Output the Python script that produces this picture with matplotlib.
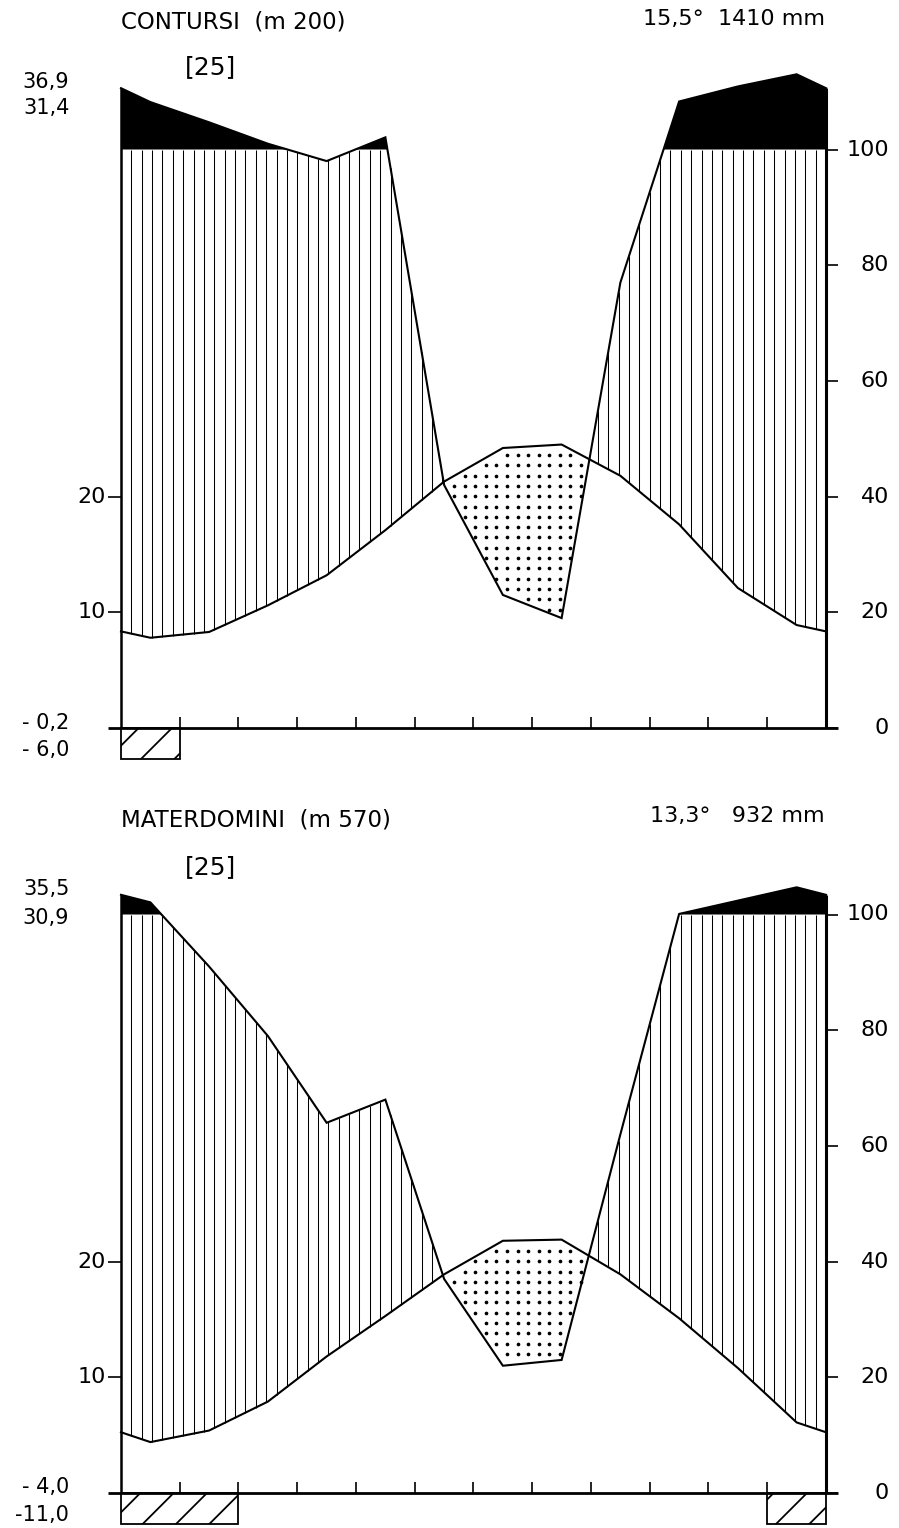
# %%
import numpy as np
import matplotlib.pyplot as plt
from matplotlib.patches import Rectangle

plt.rcParams["font.family"] = ["DejaVu Sans"]
plt.rcParams["hatch.linewidth"] = 1.3

# mesi (centro di ogni mese, gen..dic)
mesi = np.arange(12) + 0.5

# CONTURSI (m 200): temperatura media mensile (°C), precipitazioni (mm)
contursi_temp = [7.8, 8.3, 10.6, 13.2, 17.1, 21.3, 24.2, 24.5, 21.8, 17.6, 12.1, 8.9]
contursi_prec = [182, 147, 110, 98, 121, 42, 23, 19, 77, 183, 209, 230]
contursi_gelo = [1]  # mesi con minimo assoluto < 0
contursi_estremi = ["36,9", "31,4", "- 0,2", "- 6,0"]

# MATERDOMINI (m 570)
materdomini_temp = [4.4, 5.4, 7.9, 11.8, 15.3, 18.9, 21.8, 21.9, 18.9, 15.1, 10.8, 6.1]
materdomini_prec = [121, 91, 79, 64, 68, 37, 22, 23, 62, 101, 124, 147]
materdomini_gelo = [1, 2, 12]
materdomini_estremi = ["35,5", "30,9", "- 4,0", "-11,0"]

tick_prec = [0, 20, 40, 60, 80, 100]
tick_temp = [10, 20]

FS = 16


def scala_prec(p):
    # fino a 100 mm: 10 °C = 20 mm, oltre: 10 °C = 200 mm
    p = np.asarray(p, float)
    return np.where(p <= 100, p / 2.0, 50 + (p - 100) / 20.0)


def chiudi(y):
    # aggiunge i bordi (gen/dic) al 1 gennaio / 31 dicembre
    y = np.asarray(y, float)
    bordo = (y[0] + y[-1]) / 2.0
    return np.concatenate([[bordo], y, [bordo]])


def diagramma(ax, temp, prec, gelo, estremi, titolo, media, y_tit, y_anni, y_est):
    x = np.concatenate([[0], mesi, [12]])
    t = chiudi(temp)
    p = chiudi(scala_prec(prec))

    xs = np.linspace(0, 12, 2401)
    ts = np.interp(xs, x, t)
    ps = np.interp(xs, x, p)

    # periodo perumido (nero)
    ax.fill_between(xs, 50, ps, where=ps > 50, color="black", lw=0, interpolate=True)

    # periodo umido: tratteggio verticale
    xh = np.linspace(0, 12, 69)
    th = np.interp(xh, x, t)
    ph = np.minimum(np.interp(xh, x, p), 50)
    m = ph > th
    ax.vlines(xh[m], th[m], ph[m], color="black", lw=0.75)

    # periodo arido: punteggiato
    xd, yd = np.meshgrid(np.arange(0.09, 12, 0.18), np.arange(0.45, 60, 0.89))
    td = np.interp(xd, x, t)
    pd_ = np.interp(xd, x, p)
    md = (yd < td - 0.3) & (yd > pd_ + 0.3)
    ax.scatter(xd[md], yd[md], s=7, color="black", lw=0)

    # curve
    ax.plot(x, p, color="black", lw=1.5, solid_joinstyle="miter")
    ax.plot(x, t, color="black", lw=1.5, solid_joinstyle="miter")

    # bordi e asse
    ax.vlines(0, 0, max(p[0], t[0]), color="black", lw=1.8)
    ax.vlines(12, 0, max(p[-1], t[-1]), color="black", lw=2.2)
    ax.hlines(0, -0.22, 12.2, color="black", lw=2.0)
    ax.vlines(np.arange(1, 12), 0, 0.95, color="black", lw=1.2)
    ax.hlines(tick_temp, -0.22, 0, color="black", lw=1.2)
    ax.hlines(scala_prec(tick_prec), 12, 12.2, color="black", lw=1.2)

    for v in tick_temp:
        ax.text(-0.26, v, str(v), ha="right", va="center", fontsize=FS)
    for v in tick_prec:
        ax.text(13.07, scala_prec(v), str(v), ha="right", va="center", fontsize=FS)

    # mesi con gelo
    gruppi = []
    for g in sorted(gelo):
        if gruppi and g == gruppi[-1][-1] + 1:
            gruppi[-1].append(g)
        else:
            gruppi.append([g])
    for gr in gruppi:
        ax.add_patch(Rectangle((gr[0] - 1, -2.7), len(gr), 2.7, facecolor="none",
                               edgecolor="black", hatch="/", lw=1.3))

    # testi
    ax.text(0, y_tit, titolo, ha="left", va="center", fontsize=FS + 0.5)
    ax.text(11.98, y_tit + 0.3, media, ha="right", va="center", fontsize=FS)
    ax.text(1.52, y_anni, "[25]", ha="center", va="center", fontsize=FS + 2)
    for testo, yy in zip(estremi, y_est):
        ax.text(-0.88, yy, testo, ha="right", va="center", fontsize=FS - 1)


W, H = 899, 1528
PX_M = 58.75   # px per mese
PX_C = 11.57   # px per °C
fig = plt.figure(figsize=(W / 100, H / 100), dpi=100)

split = 790
ax1 = fig.add_axes([0, 1 - split / H, 1, split / H])
ax1.set_xlim(-121 / PX_M, (W - 121) / PX_M)
ax1.set_ylim(-(split - 728) / PX_C, 728 / PX_C)
ax1.axis("off")
diagramma(ax1, contursi_temp, contursi_prec, contursi_gelo, contursi_estremi,
          "CONTURSI  (m 200)", "15,5°  1410 mm", 61.0, 57.1, [55.8, 53.6, 0.45, -1.9])

ax2 = fig.add_axes([0, 0, 1, (H - split) / H])
ax2.set_xlim(-121 / PX_M, (W - 121) / PX_M)
ax2.set_ylim(-(H - 1493) / PX_C, (1493 - split) / PX_C)
ax2.axis("off")
diagramma(ax2, materdomini_temp, materdomini_prec, materdomini_gelo, materdomini_estremi,
          "MATERDOMINI  (m 570)", "13,3°   932 mm", 58.2, 54.1, [52.2, 49.7, 0.5, -1.9])

plt.savefig("out.png", dpi=100)
plt.close()

# %%
